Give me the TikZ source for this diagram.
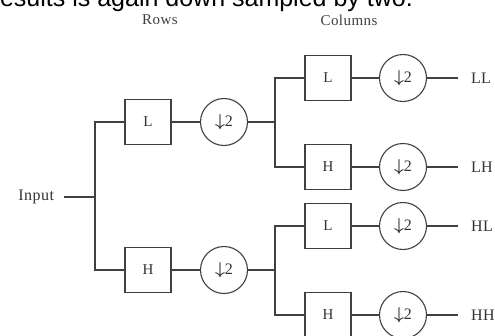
\documentclass[tikz,border=0pt]{standalone}
\usepackage{fontspec}
\setmainfont{Liberation Serif}
\newfontfamily\capfont{Liberation Sans}
\newfontfamily\spaced[LetterSpace=3]{Liberation Serif}
\newcommand{\dsym}{{\boldmath$\downarrow$}2}
\begin{document}
\begin{tikzpicture}[x=1pt,y=-1pt,
  wire/.style={line width=1.1pt, draw=black!75},
  filt/.style={wire, draw, rectangle, minimum width=46pt, minimum height=45pt, inner sep=0pt, font=\spaced\fontsize{15}{17}\selectfont, text=black!80},
  dsamp/.style={wire, draw, circle, minimum size=47pt, inner sep=0pt, font=\fontsize{16}{18}\selectfont, text=black!80},
  lbl/.style={inner sep=0pt, font=\spaced\fontsize{16}{18}\selectfont, text=black!80},
  outlbl/.style={lbl, anchor=west, outer xsep=13pt},
  head/.style={inner sep=0pt, font=\spaced\fontsize{15}{17}\selectfont, text=black!75}]
\useasboundingbox (0,0) rectangle (495,335);
\clip (0,0) rectangle (495,335);

% caption line running above the figure
\node[anchor=base east, inner sep=0pt, font=\capfont\fontsize{25}{29}\selectfont] (cap) at (413,6) {results is again down sampled by two.};

% stage headings
\node[head] (rows) at (160,20) {Rows};
\node[head] (cols) at (349,20) {Columns};

% input and first split
\node[lbl, anchor=east, outer xsep=10pt] (input) at (64,197) {Input};
\coordinate (s1) at (95,197);

% row filters and downsamplers
\node[filt] (rL) at (148,122) {L};
\node[filt] (rH) at (148,270) {H};
\node[dsamp] (rLd) at (224,122) {\dsym\hspace{6pt}};
\node[dsamp] (rHd) at (224,270) {\dsym\hspace{6pt}};
\coordinate (s2) at (275,122);
\coordinate (s3) at (275,270);

% column filters and downsamplers
\node[filt] (cLL) at (328,78) {L};
\node[filt] (cLH) at (328,167) {H};
\node[filt] (cHL) at (328,226) {L};
\node[filt] (cHH) at (328,315) {H};
\node[dsamp] (dLL) at (403,78) {\dsym\hspace{4pt}};
\node[dsamp] (dLH) at (403,167) {\dsym\hspace{4pt}};
\node[dsamp] (dHL) at (403,226) {\dsym\hspace{4pt}};
\node[dsamp] (dHH) at (403,315) {\dsym\hspace{4pt}};

% sub-band outputs
\node[outlbl] (oLL) at (458,78) {LL};
\node[outlbl] (oLH) at (458,167) {LH};
\node[outlbl] (oHL) at (458,226) {HL};
\node[outlbl] (oHH) at (458,315) {HH};

% wiring
\draw[wire] (input) -- (s1);
\draw[wire] (s1) |- (rL);
\draw[wire] (s1) |- (rH);
\draw[wire] (rL) -- (rLd);
\draw[wire] (rH) -- (rHd);
\draw[wire] (rLd) -- (s2);
\draw[wire] (rHd) -- (s3);
\draw[wire] (s2) |- (cLL);
\draw[wire] (s2) |- (cLH);
\draw[wire] (s3) |- (cHL);
\draw[wire] (s3) |- (cHH);
\foreach \f/\d/\o in {cLL/dLL/oLL, cLH/dLH/oLH, cHL/dHL/oHL, cHH/dHH/oHH}{
  \draw[wire] (\f) -- (\d);
  \draw[wire] (\d) -- (\o);
}
\end{tikzpicture}
\end{document}
